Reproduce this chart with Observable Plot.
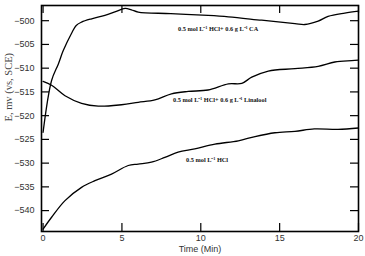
<!DOCTYPE html>
<html><head><meta charset="utf-8">
<script src="https://cdn.jsdelivr.net/npm/d3@7"></script>
<script src="https://cdn.jsdelivr.net/npm/@observablehq/plot@0.6"></script>
<style>body{margin:0;background:#fff;} #chart svg{display:block;}</style>
</head><body><div id="chart"></div>
<script>
const seriesNames = ["0.5 mol L⁻¹ HCl+ 0.6 g L⁻¹ CA", "0.5 mol L⁻¹ HCl+ 0.6 g L⁻¹ Linalool", "0.5 mol L⁻¹ HCl"];

const timeCA = [0, 0.54, 0.97, 1.28, 1.8, 2.1, 2.44, 3.08, 3.92, 4.6, 5.2, 5.6, 6.03, 8.1, 10.46, 11.75, 13.86, 15.97, 16.6, 17.44, 18.07, 19.13, 20];
const eCA    = [-523.5, -512.6, -509.1, -506.3, -502.7, -501.0, -500.3, -499.6, -498.9, -498.1, -497.4, -497.7, -498.2, -498.5, -498.9, -499.2, -499.9, -500.6, -500.8, -500.1, -499.1, -498.4, -498.0];

const timeLin = [0, 0.54, 1.39, 2.44, 3.5, 4.97, 6.03, 7.09, 8.14, 9.2, 10.46, 11.75, 12.6, 13.23, 14.28, 15.97, 17.44, 18.5, 19.56, 20];
const eLin    = [-512.8, -513.6, -515.8, -517.4, -518.0, -517.7, -517.2, -516.7, -515.4, -514.9, -514.6, -513.3, -513.2, -511.9, -510.6, -510.1, -509.6, -508.7, -508.4, -508.3];

const timeHCl = [0, 0.54, 1.39, 2.44, 3.29, 4.34, 5.4, 6.03, 6.87, 7.72, 8.56, 9.62, 10.9, 12.38, 13.44, 14.7, 15.97, 17.2, 18.7, 20];
const eHCl    = [-543.9, -541.4, -537.9, -535.1, -533.7, -532.3, -530.5, -530.2, -529.8, -528.8, -527.7, -527.0, -526.0, -525.3, -524.4, -523.6, -523.3, -522.8, -522.9, -522.6];

const xTicks = [0, 5, 10, 15, 20];
const yTicks = [-540, -535, -530, -525, -520, -515, -510, -505, -500];

const labelTime = [11.1, 11.2, 10.4];
const labelE    = [-501.7, -516.8, -529.3];

const xTitle = "Time (Min)";
const yTitle = "E, mv (vs, SCE)";

const rows = [];
[[timeCA, eCA], [timeLin, eLin], [timeHCl, eHCl]].forEach(([ts, es], i) => {
  ts.forEach((t, j) => rows.push({series: seriesNames[i], t, e: es[j]}));
});
const labels = seriesNames.map((s, i) => ({text: s, t: labelTime[i], e: labelE[i]}));

const W = 365, H = 256, mL = 41, mR = 7, mT = 5, mB = 25;
const fw = W - mL - mR, fh = H - mT - mB, tl = 8;

const chart = Plot.plot({
  width: W, height: H,
  marginLeft: mL, marginRight: mR, marginTop: mT, marginBottom: mB,
  x: {domain: [-0.1, 20]},
  y: {domain: [-544.4, -496.8]},
  style: {fontFamily: "'Liberation Sans', Arial, sans-serif", fontSize: "9px", color: "#222", background: "#fff"},
  marks: [
    Plot.axisX(xTicks, {tickSize: 0, tickPadding: 3, label: null, fill: "#333"}),
    Plot.axisY(yTicks, {tickSize: 0, tickPadding: 7, label: null, fill: "#333"}),
    Plot.tickY(yTicks, {y: d => d, insetRight: fw - tl, stroke: "#000", strokeWidth: 1.2}),
    Plot.tickY(yTicks, {y: d => d, insetLeft: fw - tl, stroke: "#000", strokeWidth: 1.2}),
    Plot.tickX(xTicks, {x: d => d, insetTop: fh - tl, stroke: "#000", strokeWidth: 1.2}),
    Plot.tickX(xTicks, {x: d => d, insetBottom: fh - tl, stroke: "#000", strokeWidth: 1.2}),
    Plot.frame({stroke: "#000", strokeWidth: 1.6}),
    Plot.line(rows, {x: "t", y: "e", z: "series", curve: "catmull-rom", stroke: "#000", strokeWidth: 1.3}),
    Plot.text(labels, {x: "t", y: "e", text: "text", fontFamily: "'Liberation Serif', 'Times New Roman', serif", fontWeight: "bold", fontSize: 6.3, fill: "#111"}),
    Plot.text([xTitle], {frameAnchor: "bottom", dy: 20, text: d => d, fontSize: 9, fill: "#333"}),
    Plot.text([yTitle], {frameAnchor: "left", dx: -33, dy: 3, rotate: -90, text: d => d, fontFamily: "'Liberation Serif', 'Times New Roman', serif", fontSize: 10.5, fill: "#444"})
  ]
});
document.getElementById("chart").appendChild(chart);
</script></body></html>
